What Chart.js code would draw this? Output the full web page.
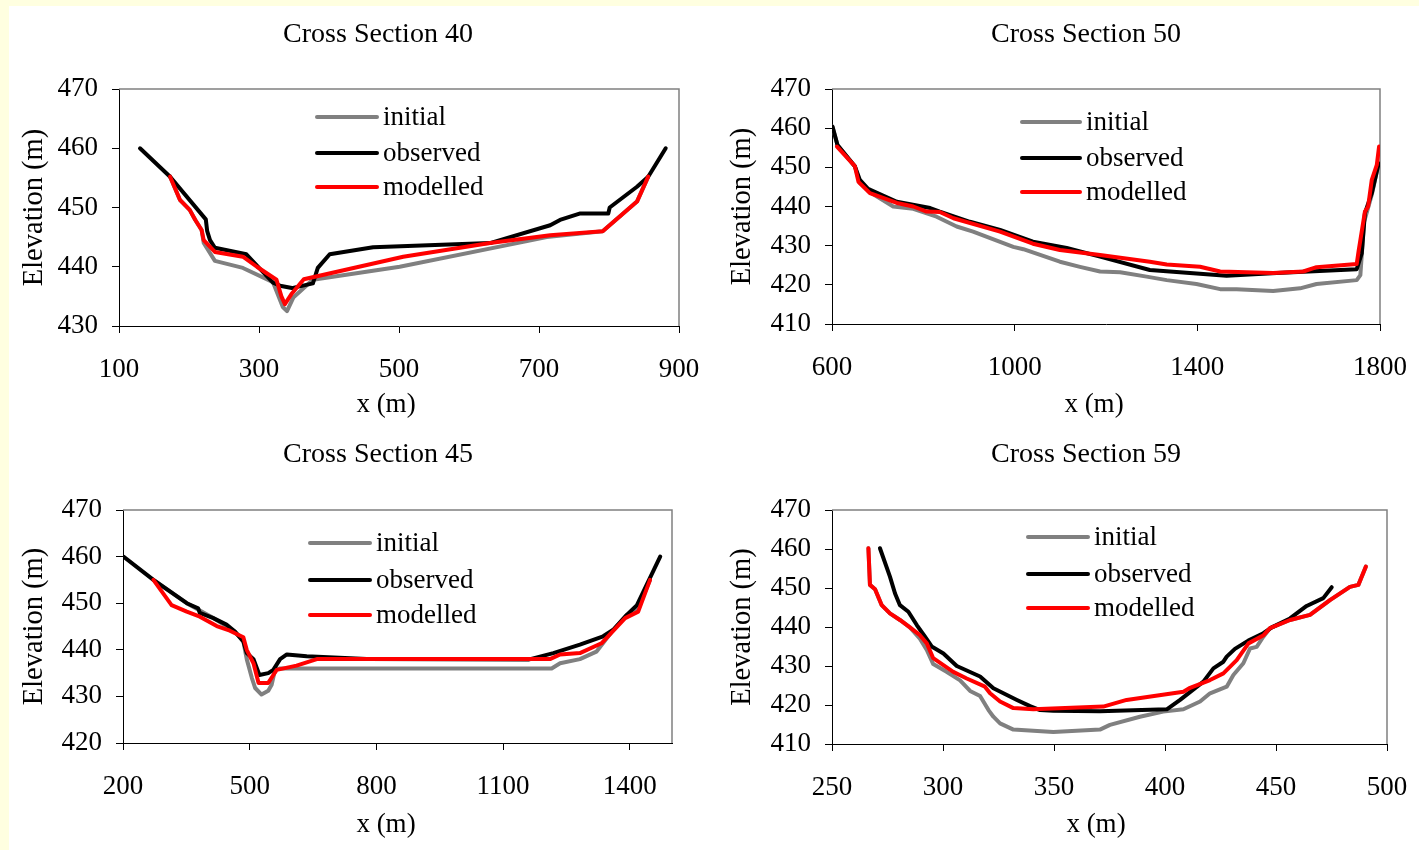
<!DOCTYPE html>
<html>
<head>
<meta charset="utf-8">
<script src="https://cdn.jsdelivr.net/npm/chart.js@4.4.1/dist/chart.umd.min.js"></script>
<style>
html, body { margin: 0; padding: 0; background: #fff; }
body { width: 1419px; height: 850px; position: relative; overflow: hidden; }
.strip { position: absolute; background: #FFFFE0; }
.panel { position: absolute; }
</style>
</head>
<body>
<div class="strip" style="left:0;top:0;width:1419px;height:6px"></div>
<div class="strip" style="left:0;top:0;width:9px;height:850px"></div>
<div class="panel" style="left:9px;top:6px"><canvas id="cs40" width="700" height="424"></canvas></div>
<div class="panel" style="left:709px;top:6px"><canvas id="cs50" width="710" height="424"></canvas></div>
<div class="panel" style="left:9px;top:430px"><canvas id="cs45" width="700" height="420"></canvas></div>
<div class="panel" style="left:709px;top:430px"><canvas id="cs59" width="710" height="420"></canvas></div>
<script>
/* ---- data: [x (m), elevation (m)] ---- */
var SERIES = ['initial', 'observed', 'modelled'];

var cs40Initial  = [[173,455.2],[187,451.3],[201,449.6],[209,447.9],[218,446.2],[221,444],[237,441],[277,439.8],[320,437.4],[334,433.2],[340,432.5],[349,434.8],[377,437.8],[501,440],[711,445],[791,446],[840,451],[856,455.2]];
var cs40Observed = [[130,460],[173,455.2],[224,448],[226,446],[230,444.5],[237,443.2],[282,442.1],[320,437.3],[330,436.8],[347,436.4],[377,437.2],[384,439.8],[401,442.1],[463,443.3],[630,444],[716,447],[730,447.9],[759,449],[799,449],[801,450],[840,453.5],[856,455.2],[881,460]];
var cs40Modelled = [[173,455.2],[187,451.3],[201,449.6],[209,447.9],[218,446.2],[221,444.5],[237,442.5],[277,441.7],[297,440],[325,437.8],[332,435],[337,433.7],[347,435.5],[364,437.9],[506,441.7],[630,444],[716,445.3],[791,446],[840,451],[856,455.2]];

var cs50Initial  = [[601,460.4],[612,455.7],[650,450.3],[661,446],[687,443.4],[734,440],[778,439.4],[829,437.4],[873,434.9],[909,433.6],[997,429.7],[1019,429.1],[1099,425.9],[1143,424.6],[1187,423.4],[1231,423.2],[1289,422.1],[1333,421.2],[1398,420.2],[1450,418.9],[1486,418.9],[1566,418.4],[1625,419.1],[1661,420.2],[1749,421.2],[1757,422.5],[1765,436],[1782,443],[1797,451]];
var cs50Observed = [[601,460.4],[612,455.7],[650,450.3],[661,446.8],[679,444.5],[742,441.2],[815,439.6],[836,438.7],[902,436.1],[968,434],[1040,431],[1114,429.4],[1187,427.2],[1296,423.8],[1464,422.3],[1574,423],[1749,424],[1760,428],[1767,438.3],[1782,443.4],[1797,451]];
var cs50Modelled = [[611,455.3],[650,450.3],[658,446.3],[683,443.4],[742,440.9],[778,440],[807,438.7],[836,438.6],[866,437],[968,433.6],[1040,430.5],[1099,428.9],[1187,427.6],[1296,425.9],[1333,425.2],[1406,424.6],[1450,423.4],[1566,423],[1632,423.4],[1661,424.5],[1749,425.3],[1753,428.5],[1767,438.7],[1774,440],[1782,446.8],[1793,450.6],[1798,455.3]];

var cs45Initial  = [[272,455],[351,450],[414,446.8],[465,443.9],[485,441.8],[493,438],[505,434],[513,431.8],[528,430.4],[544,431.2],[552,432.5],[560,435.7],[572,436],[1215,436],[1235,437.1],[1282,438],[1321,439.6],[1361,444.3],[1393,447.5],[1420,449],[1448,455]];
var cs45Observed = [[201,460],[272,455],[351,450],[378,448.9],[382,447.9],[414,446.8],[445,445.4],[465,443.9],[485,441.8],[493,439.3],[509,438],[523,434.6],[544,435],[556,435.7],[572,438],[588,439],[635,438.6],[777,438],[1160,437.9],[1219,439.3],[1282,441.1],[1337,442.9],[1361,444.3],[1393,447.5],[1417,449.6],[1472,460]];
var cs45Modelled = [[272,455],[315,449.6],[351,448.2],[382,447.1],[422,445.1],[453,444.1],[485,442.7],[493,440],[509,437.1],[521,432.9],[544,432.9],[556,434.6],[564,435.7],[611,436.6],[659,438],[1211,438],[1235,439],[1282,439.3],[1333,441.4],[1389,446.8],[1420,448.2],[1448,455]];

var cs59Initial  = [[266.4,460.2],[267.1,450.8],[269.4,449.7],[272.4,445.6],[276.1,443.5],[280.6,441.8],[285.1,439.9],[289.6,437],[292.7,434.1],[295.6,430.5],[301.6,428.5],[307.7,426.3],[312.2,423.6],[316.7,422.3],[320.5,418.7],[322.7,417],[325.7,415.3],[331.7,413.7],[349.7,413.1],[370.7,413.7],[375.2,414.9],[388.7,417],[399.2,418.3],[408.3,418.9],[415.8,420.9],[420.3,423],[427.8,424.7],[430.8,427.7],[435.3,430.7],[438.3,434.5],[441.3,434.9],[444.3,437.5],[447.3,439.7],[456.3,441.8],[465.3,443.1],[474.3,446.9],[483.3,450.3],[487.1,450.8],[490.5,455.5]];
var cs59Observed = [[271.6,460.2],[276.1,452.9],[278.4,448.6],[280.6,445.6],[284.4,443.9],[288.2,440.5],[291.9,437.5],[294.9,435],[300.2,433.2],[306.2,430],[316.7,427.3],[322.7,424.3],[333.3,421.3],[339.2,419.7],[343.7,418.7],[349.7,418.5],[370.7,418.4],[400.8,418.9],[406.8,421.3],[417.3,426],[421.8,429.4],[426.3,431.1],[427.8,432.4],[431.5,434.4],[437.5,436.5],[444.3,438.4],[448.1,439.9],[456.3,442.2],[463.8,445.4],[471.3,447.4],[475.1,450.2]];
var cs59Modelled = [[266.4,460.2],[267.1,450.8],[269.4,449.7],[272.4,445.6],[276.1,443.5],[280.6,441.8],[285.1,439.9],[289.6,437.9],[292.7,435.8],[295.6,432],[304.6,428.5],[310.7,426.8],[318.9,424.7],[321.2,423],[325.7,420.9],[331.7,419.2],[340.7,418.9],[372.2,419.6],[382.7,421.3],[408.3,423.4],[411.3,424.4],[420.3,426.4],[426.3,428.1],[432.3,431.5],[437.6,435.8],[444.4,437.9],[447.3,439.7],[456.3,441.8],[465.3,443.1],[474.3,446.9],[483.3,450.3],[487.1,450.8],[490.5,455.5]];

/* ---- tick labels ---- */
var cs40XTicks = [100, 300, 500, 700, 900];
var cs40YTicks = [430, 440, 450, 460, 470];
var cs50XTicks = [600, 1000, 1400, 1800];
var cs50YTicks = [410, 420, 430, 440, 450, 460, 470];
var cs45XTicks = [200, 500, 800, 1100, 1400];
var cs45XMax   = 1500;
var cs45YTicks = [420, 430, 440, 450, 460, 470];
var cs59XTicks = [250, 300, 350, 400, 450, 500];
var cs59YTicks = [410, 420, 430, 440, 450, 460, 470];

var COLORS = ['#808080', '#000000', '#FF0000'];
var FONT   = "'Liberation Serif', 'Times New Roman', serif";
var FS     = 27;

/* ---- titulo, x-title, legenda e borda cinza do plot ---- */
var panelDeco = {
    id: 'panelDeco',
    beforeDatasetsDraw: function(chart) {
        var a = chart.chartArea, ctx = chart.ctx;
        ctx.save();
        ctx.strokeStyle = '#808080'; ctx.lineWidth = 1.5;
        ctx.beginPath();
        ctx.moveTo(a.left, a.top); ctx.lineTo(a.right, a.top); ctx.lineTo(a.right, a.bottom);
        ctx.stroke();
        ctx.restore();
    },
    afterDraw: function(chart, args, o) {
        var a = chart.chartArea, ctx = chart.ctx;
        ctx.save();
        ctx.fillStyle = '#000';
        ctx.textBaseline = 'middle';
        ctx.textAlign = 'center';
        ctx.font = '28px ' + FONT;
        ctx.fillText(o.title, a.left + o.titleDx, a.top + o.titleDy);
        ctx.font = FS + 'px ' + FONT;
        ctx.fillText('x (m)', a.left + o.xTitleDx, a.bottom + o.xTitleDy);
        ctx.textAlign = 'left';
        chart.data.datasets.forEach(function(ds, i) {
            var y = a.top + o.legY[i];
            ctx.strokeStyle = ds.borderColor; ctx.lineWidth = 4; ctx.lineCap = 'round';
            ctx.beginPath(); ctx.moveTo(a.left + o.legX0, y); ctx.lineTo(a.left + o.legX1, y); ctx.stroke();
            ctx.fillText(ds.label, a.left + o.legX1 + 6, y + 1);
        });
        ctx.restore();
    }
};

function axisFont(sz) { return { family: FONT, size: sz || FS }; }

function makeChart(id, lines, xTicks, xMax, yTicks, lay) {
    var datasets = lines.map(function(pts, i) {
        return {
            label: SERIES[i], data: pts, order: 2 - i,
            borderColor: COLORS[i], borderWidth: 4,
            borderJoinStyle: 'round', borderCapStyle: 'round',
            pointRadius: 0, tension: 0, fill: false
        };
    });
    return new Chart(document.getElementById(id), {
        type: 'line',
        data: { datasets: datasets },
        options: {
            responsive: false, animation: false, events: [],
            layout: { padding: { left: 0, top: lay.top, right: lay.right, bottom: 0 } },
            plugins: {
                legend: { display: false }, tooltip: { enabled: false },
                panelDeco: lay.deco
            },
            scales: {
                x: {
                    type: 'linear', min: xTicks[0], max: xMax,
                    afterBuildTicks: function(s) { s.ticks = xTicks.map(function(v) { return { value: v }; }); },
                    // tamanho fixo, sem folga extra para o ultimo rotulo
                    afterFit: function(s) { s.height = lay.xH; s.paddingLeft = 0; s.paddingRight = 0; },
                    grid: { drawOnChartArea: false, drawTicks: true, tickLength: 7, color: '#000' },
                    border: { color: '#000', width: 1 },
                    ticks: { font: axisFont(), color: '#000', padding: 21, maxRotation: 0, autoSkip: false,
                             callback: function(v) { return String(v); } },
                    title: { display: false }
                },
                y: {
                    type: 'linear', min: yTicks[0], max: yTicks[yTicks.length - 1],
                    afterBuildTicks: function(s) { s.ticks = yTicks.map(function(v) { return { value: v }; }); },
                    afterFit: function(s) { s.width = lay.yW; s.paddingTop = 0; s.paddingBottom = 0; },
                    grid: { drawOnChartArea: false, drawTicks: true, tickLength: 7, color: '#000' },
                    border: { color: '#000', width: 1 },
                    ticks: { font: axisFont(), color: '#000', padding: 14, autoSkip: false,
                             callback: function(v) { return String(v); } },
                    title: { display: true, text: 'Elevation (m)', font: axisFont(28.5), color: '#000', padding: { top: lay.yTitlePad, bottom: 0 } }
                }
            }
        },
        plugins: [panelDeco]
    });
}

makeChart('cs40', [cs40Initial, cs40Observed, cs40Modelled], cs40XTicks, cs40XTicks[cs40XTicks.length - 1], cs40YTicks,
    { top: 83, right: 30, xH: 104, yW: 110, yTitlePad: 8,
      deco: { title: 'Cross Section 40', titleDx: 259, titleDy: -54, xTitleDx: 267, xTitleDy: 79,
              legX0: 198, legX1: 258, legY: [28, 64, 98] } });

makeChart('cs50', [cs50Initial, cs50Observed, cs50Modelled], cs50XTicks, cs50XTicks[cs50XTicks.length - 1], cs50YTicks,
    { top: 83, right: 39, xH: 106, yW: 123, yTitlePad: 16,
      deco: { title: 'Cross Section 50', titleDx: 254, titleDy: -54, xTitleDx: 262, xTitleDy: 81,
              legX0: 190, legX1: 248, legY: [33, 69, 103] } });

makeChart('cs45', [cs45Initial, cs45Observed, cs45Modelled], cs45XTicks, cs45XMax, cs45YTicks,
    { top: 80, right: 37, xH: 107, yW: 114, yTitlePad: 8,
      deco: { title: 'Cross Section 45', titleDx: 255, titleDy: -55, xTitleDx: 263, xTitleDy: 82,
              legX0: 187, legX1: 247, legY: [33, 70, 105] } });

makeChart('cs59', [cs59Initial, cs59Observed, cs59Modelled], cs59XTicks, cs59XTicks[cs59XTicks.length - 1], cs59YTicks,
    { top: 80, right: 32, xH: 106, yW: 123, yTitlePad: 16,
      deco: { title: 'Cross Section 59', titleDx: 254, titleDy: -55, xTitleDx: 264, xTitleDy: 81,
              legX0: 196, legX1: 256, legY: [27, 64, 98] } });
</script>
</body>
</html>
